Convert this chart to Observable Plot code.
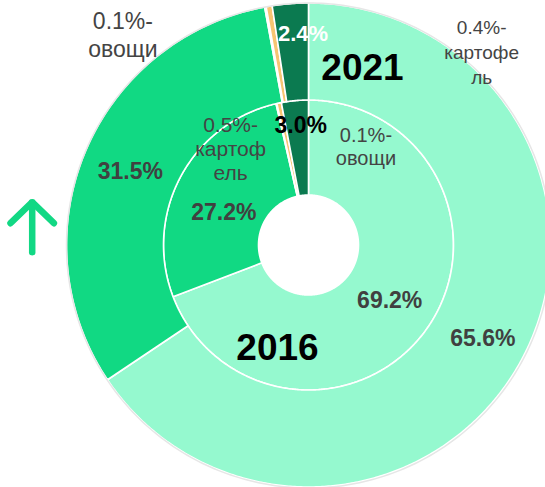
<!DOCTYPE html>
<html><head><meta charset="utf-8">
<script src="https://cdn.jsdelivr.net/npm/d3@7"></script>
<script src="https://cdn.jsdelivr.net/npm/@observablehq/plot@0.6"></script>
<style>body{margin:0;background:#fff} svg{display:block}</style>
</head><body><div id="chart"></div>
<script>
// ---- data ----
const categories = ["сегмент 1", "сегмент 2", "овощи", "картофель", "сегмент 5"];
const years = ["2016", "2021"];
const values2016 = [69.2, 27.2, 0.1, 0.5, 3.0];
const values2021 = [65.6, 31.5, 0.1, 0.4, 2.4];
const colors = ["#95f9cf", "#11d983", "#fde6b4", "#f7c572", "#0b7a50"];

// ---- layout ----
const W = 545, H = 487;
const cx = 308.5, cy = 245;
const rings = {"2016": [50, 145], "2021": [145, 242]};
const valuesByYear = {"2016": values2016, "2021": values2021};
const labelLayout = {
  "2016": [
    {r: 98, size: 23, weight: "bold", fill: "#404040"},
    {r: 92, dx: -4, dy: 10, size: 23, weight: "bold", fill: "#404040"},
    {r: 145, dx: 89, dy: 42, size: 20, fill: "#444", wrap: 0, lh: 1.15},
    {r: 145, dx: -49, dy: 45, size: 21, fill: "#444", wrap: 6, lh: 1.13},
    {r: 120, dx: 3, dy: 0, size: 23, weight: "bold", fill: "#000"}
  ],
  "2021": [
    {r: 197, size: 23, weight: "bold", fill: "#404040"},
    {r: 195, dx: 1, dy: 2, size: 23, weight: "bold", fill: "#404040"},
    {r: 242, dx: -143, dy: 27, size: 23, fill: "#444", wrap: 0, lh: 1.22},
    {r: 242, dx: 212, dy: 44, size: 19, fill: "#444", wrap: 7, lh: 1.32},
    {r: 212, dx: 10, dy: 0, size: 22, weight: "bold", fill: "#fff"}
  ]
};
const yearLabelPos = {"2016": [-31.5, 103], "2021": [53.5, -177]};
const smallIdx = [2, 3];
// trend arrow (up): position relative to the donut centre
const trend = {x: -276.8, tipY: -43.3, tailY: 6.7, wingX: 21.7, wingY: 21};

const TAU = Math.PI * 2;
const polar = (r, a) => [r * Math.sin(a), -r * Math.cos(a)];

// ---- build slices ----
const sliceRows = [];
const labels = [];
for (const year of years) {
  const vals = valuesByYear[year];
  const [r0, r1] = rings[year];
  let cum = 0;
  vals.forEach((v, i) => {
    const a0 = cum / 100 * TAU, a1 = (cum + v) / 100 * TAU;
    const n = Math.max(2, Math.ceil((a1 - a0) / TAU * 720));
    for (let k = 0; k <= n; k++) {
      const a = a0 + (a1 - a0) * k / n;
      const [xi, yi] = polar(r0, a), [xo, yo] = polar(r1, a);
      sliceRows.push({id: year + "-" + i, key: categories[i], x1: xi, y1: yi, x2: xo, y2: yo});
    }
    const L = labelLayout[year][i];
    const [lx, ly] = polar(L.r, (a0 + a1) / 2);
    let text;
    if (smallIdx.includes(i)) {
      const name = categories[i];
      const nm = L.wrap ? name.slice(0, L.wrap) + "\n" + name.slice(L.wrap) : name;
      text = v.toFixed(1) + "%-\n" + nm;
    } else {
      text = v.toFixed(1) + "%";
    }
    labels.push({x: lx + (L.dx || 0), y: ly + (L.dy || 0), text, L});
    cum += v;
  });
}
const border = d3.range(0, 361).map(d => {
  const [x, y] = polar(242.5, d / 360 * TAU);
  return {x, y};
});
const arrowHead = [
  {x: trend.x - trend.wingX, y: trend.tipY + trend.wingY},
  {x: trend.x, y: trend.tipY},
  {x: trend.x + trend.wingX, y: trend.tipY + trend.wingY}
];

const font = "'Liberation Sans', Arial, sans-serif";
const textMarks = labels.map(l => Plot.text([l], {
  x: "x", y: "y", text: "text",
  fontSize: l.L.size, fontWeight: l.L.weight || "normal",
  fill: l.L.fill, lineHeight: l.L.lh || 1, textAnchor: "middle"
}));
const yearMarks = years.map(y => Plot.text([{x: yearLabelPos[y][0], y: yearLabelPos[y][1], t: y}], {
  x: "x", y: "y", text: "t", fontSize: 37, fontWeight: "bold", fill: "#000"
}));

const chart = Plot.plot({
  width: W, height: H,
  margin: 0,
  style: {fontFamily: font, background: "#fff"},
  x: {domain: [-cx, W - cx], range: [0, W], axis: null},
  y: {domain: [-cy, H - cy], range: [0, H], axis: null},
  color: {domain: categories, range: colors},
  marks: [
    Plot.area(sliceRows, {x1: "x1", y1: "y1", x2: "x2", y2: "y2", z: "id", fill: "key",
      stroke: "#fff", strokeWidth: 1.6, curve: "linear"}),
    Plot.line(border, {x: "x", y: "y", stroke: "#e6e6e6", strokeWidth: 1.5}),
    ...textMarks,
    ...yearMarks,
    Plot.link([trend], {x1: "x", x2: "x", y1: "tailY", y2: "tipY",
      stroke: "#12d884", strokeWidth: 6.5, strokeLinecap: "round"}),
    Plot.line(arrowHead, {x: "x", y: "y", stroke: "#12d884", strokeWidth: 6.5,
      strokeLinecap: "round", strokeLinejoin: "miter"})
  ]
});
document.getElementById("chart").appendChild(chart);
</script>
</body></html>
